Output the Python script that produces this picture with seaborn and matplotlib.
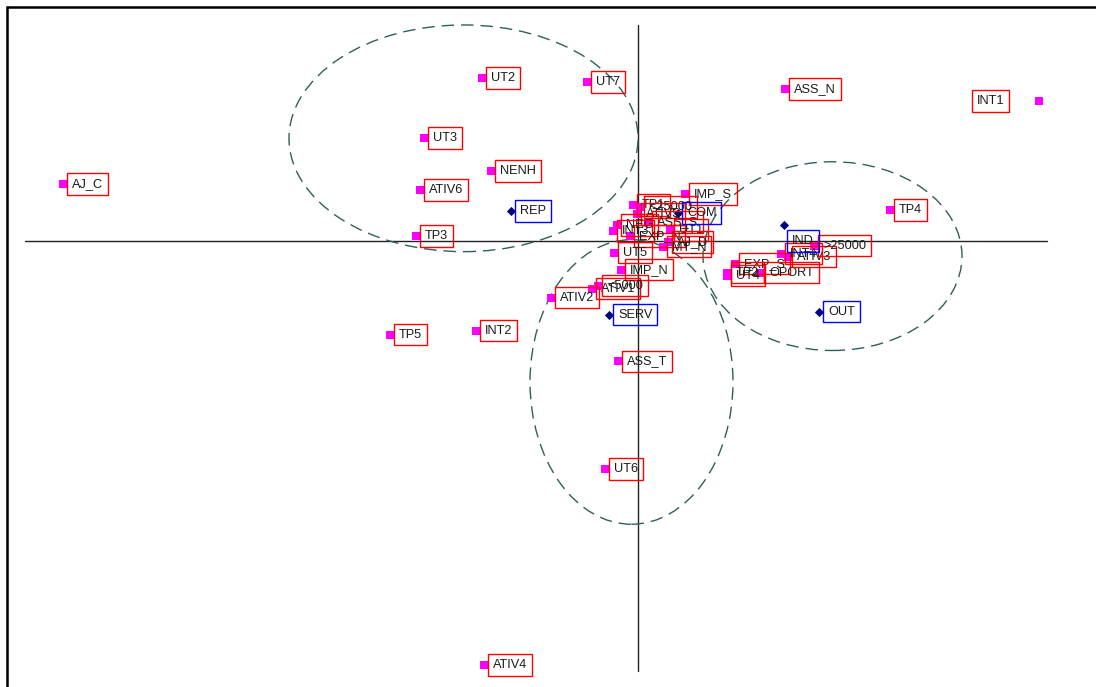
import matplotlib
matplotlib.use("Agg")
import matplotlib.pyplot as plt
from matplotlib.patches import Ellipse
from matplotlib.lines import Line2D
import seaborn as sns
import pandas as pd

# Column categories (first two correspondence-analysis dimensions)
col_labels = ["UT2", "UT7", "ASS_N", "INT1", "UT3", "AJ_C", "NENH", "ATIV6", "TP3",
              "TP4", "TP5", "INT2", "ATIV2", "ASS_T", "UT6", "ATIV4", "IMP_S", "TP1",
              "<25000", "ATIV5", "ASS_S", "NEG", "INT3", "EXP_N", "UT1", "AJ_D", "MT_N",
              "UT5", "IMP_N", "ATIV1", "<5000", "EXP_S", "UT4", "TP2", "OPORT",
              "ATIV3", "INT4", ">25000"]
col_dim1 = [-0.78, -0.255, 0.735, 2.005, -1.07, -2.875, -0.735, -1.09, -1.11,
            1.26, -1.24, -0.81, -0.435, -0.10, -0.165, -0.77, 0.235, -0.025,
            0.01, -0.005, 0.05, -0.105, -0.125, -0.04, 0.16, 0.15, 0.125,
            -0.12, -0.085, -0.23, -0.20, 0.485, 0.445, 0.445, 0.61,
            0.75, 0.715, 0.88]
col_dim2 = [0.815, 0.795, 0.76, 0.70, 0.515, 0.285, 0.35, 0.255, 0.025,
            0.155, -0.47, -0.45, -0.285, -0.605, -1.145, -2.125, 0.235, 0.18,
            0.17, 0.135, 0.095, 0.08, 0.05, 0.025, 0.055, -0.005, -0.03,
            -0.06, -0.145, -0.24, -0.225, -0.115, -0.175, -0.16, -0.16,
            -0.08, -0.065, -0.025]

# Row categories (sectors)
row_labels = ["REP", "COM", "IND", "SERV", "OUT"]
row_dim1 = [-0.635, 0.20, 0.73, -0.145, 0.905]
row_dim2 = [0.15, 0.14, 0.08, -0.37, -0.355]

# Groupings drawn as dashed ellipses: centre x, centre y, width, height
grp_cx = [-0.8725, 0.9725, -0.0325]
grp_cy = [0.5125, -0.0775, -0.7075]
grp_w = [1.745, 1.295, 1.015]
grp_h = [1.135, 0.945, 1.425]

cols = pd.DataFrame({"label": col_labels, "d1": col_dim1, "d2": col_dim2})
rows = pd.DataFrame({"label": row_labels, "d1": row_dim1, "d2": row_dim2})

sns.set_style("white")
plt.rcParams["font.family"] = ["Liberation Sans", "DejaVu Sans"]

W, H, DPI = 1096, 687, 100
fig = plt.figure(figsize=(W / DPI, H / DPI), dpi=DPI)
ax = fig.add_axes([0, 0, 1, 1])
ax.set_xlim(-3.19, 2.29)
ax.set_ylim(-2.235, 1.205)
ax.axis("off")

# Principal axes
ax.plot([-3.065, 2.045], [0, 0], color="#222222", lw=1, zorder=1)
ax.plot([0, 0], [-2.155, 1.08], color="#222222", lw=1, zorder=1)

for cx, cy, w, h in zip(grp_cx, grp_cy, grp_w, grp_h):
    ax.add_patch(Ellipse((cx, cy), w, h, fill=False, ec="#2f5f5a", lw=1.0,
                         ls=(0, (9, 5)), zorder=2))

sns.scatterplot(data=cols, x="d1", y="d2", marker="s", color="#ff00ff",
                s=34, linewidth=0, ax=ax, zorder=4, legend=False)
sns.scatterplot(data=rows, x="d1", y="d2", marker="D", color="#000080",
                s=22, linewidth=0, ax=ax, zorder=4, legend=False)

# Label placement tweaks (pixel offsets from the marker)
shift = {"INT1": (-35, 0, "right"), "IND": (8, -16, "left")}

def label(df, edge):
    for lab, x, y in zip(df["label"], df["d1"], df["d2"]):
        dx, dy, ha = shift.get(lab, (9, 0, "left"))
        ax.annotate(lab, (x, y), xytext=(dx, dy), textcoords="offset pixels",
                    ha=ha, va="center", fontsize=9.2, color="#1a1a1a", zorder=5,
                    bbox=dict(boxstyle="square,pad=0.38", fc="none", ec=edge, lw=1))

label(cols, "#ff0000")
label(rows, "#0000ff")

# Outer frame: top and left edges
fig.add_artist(Line2D([7 / W, 1], [1 - 7 / H, 1 - 7 / H], color="black", lw=1.8,
                      transform=fig.transFigure))
fig.add_artist(Line2D([7 / W, 7 / W], [0, 1 - 7 / H], color="black", lw=1.8,
                      transform=fig.transFigure))

fig.savefig("out.png", dpi=DPI)
